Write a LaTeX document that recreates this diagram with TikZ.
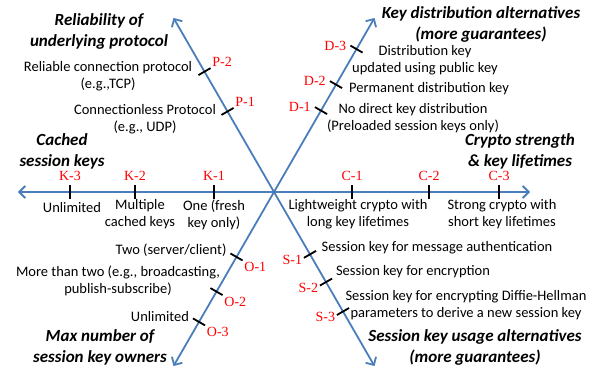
\documentclass[tikz,border=0pt]{standalone}
\usepackage{fontspec}
\setmainfont{Carlito}
\newfontfamily\labelfont{Liberation Serif}
\usepackage{tikz}
\usetikzlibrary{arrows.meta}
\usepackage{xcolor}
\definecolor{axisblue}{RGB}{74,126,187}
\tikzset{
	axis/.style={axisblue, line width=1.8pt, -{Straight Barb[length=6pt,width=12pt]}},
	tick/.style={line width=1.8pt},
	lbl/.style={text=red, font=\labelfont\fontsize{14}{16}\selectfont},
	txt/.style={align=center, font=\fontsize{14.5}{17.5}\selectfont},
	heading/.style={align=center, font=\fontsize{17}{21}\selectfont\bfseries\itshape},
}

\begin{document}
\begin{tikzpicture}[x=1pt, y=1pt]
	\useasboundingbox (-274,-177) rectangle (327,192);
	\coordinate (o) at (0,0);
	
	\draw [axis] (o) -- (0:256);
	\draw [axis] (o) -- (180:256);
	\draw [axis] (o) -- (60:201);
	\draw [axis] (o) -- (120:201);
	\draw [axis] (o) -- (240:201);
	\draw [axis] (o) -- (300:201);
	
	% headings
	\node [heading] (hp) at (-175,161) {Reliability of\\underlying protocol};
	\node [heading] (hd) at (207,168) {Key distribution alternatives\\(more guarantees)};
	\node [heading] (hk) at (-212,41) {Cached\\session keys};
	\node [heading] (hc) at (246,41) {Crypto strength\\\& key lifetimes};
	\node [heading] (ho) at (-174,-155) {Max number of\\session key owners};
	\node [heading] (hs) at (201,-155) {Session key usage alternatives\\(more guarantees)};
	
	% cached session keys
	\draw [tick] (-204,-7) -- ++(0,14) node [lbl, above] (k3) {K-3};
	\draw [tick] (-139,-7) -- ++(0,14) node [lbl, above] (k2) {K-2};
	\draw [tick] (-60,-7) -- ++(0,14) node [lbl, above] (k1) {K-1};
	\node [txt] (tk3) at (-202,-16) {Unlimited};
	\node [txt] (tk2) at (-134,-22) {Multiple\\cached keys};
	\node [txt] (tk1) at (-60,-23) {One (fresh\\key only)};
	
	% crypto strength
	\draw [tick] (78,-7) -- ++(0,14) node [lbl, above] (c1) {C-1};
	\draw [tick] (155,-7) -- ++(0,14) node [lbl, above] (c2) {C-2};
	\draw [tick] (225,-7) -- ++(0,14) node [lbl, above] (c3) {C-3};
	\node [txt] (tc1) at (84,-22) {Lightweight crypto with\\long key lifetimes};
	\node [txt] (tc3) at (228,-22) {Strong crypto with\\short key lifetimes};
	
	% protocol
	\draw [tick] (120:93) ++(210:7) -- ++(30:14) node [lbl, above right, inner sep=1pt] (p1) {P-1};
	\draw [tick] (120:139) ++(210:7) -- ++(30:14) node [lbl, above right, inner sep=1pt] (p2) {P-2};
	\node [txt] (tp2) at (-166,116) {Reliable connection protocol\\(e.g.,TCP)};
	\node [txt] (tp1) at (-129,73) {Connectionless Protocol\\(e.g., UDP)};
	
	% key distribution
	\draw [tick] (60:94) ++(330:7) -- ++(150:14) node [lbl, left] (d1) {D-1};
	\draw [tick] (60:124) ++(330:7) -- ++(150:14) node [lbl, left] (d2) {D-2};
	\draw [tick] (60:165) ++(330:7) -- ++(150:14) node [lbl, left] (d3) {D-3};
	\node [txt] (td3) at (151,132) {Distribution key\\updated using public key};
	\node [txt] (td2) at (155,103) {Permanent distribution key};
	\node [txt] (td1) at (139,74) {No direct key distribution\\(Preloaded session keys only)};
	
	% key owners
	\draw [tick] (240:75) ++(150:7) -- ++(330:14) node [lbl, below right, inner sep=1pt] (o1) {O-1};
	\draw [tick] (240:115) ++(150:7) -- ++(330:14) node [lbl, below right, inner sep=1pt] (o2) {O-2};
	\draw [tick] (240:150) ++(150:7) -- ++(330:14) node [lbl, below right, inner sep=1pt] (o3) {O-3};
	\node [txt] (to1) at (-103,-58) {Two (server/client)};
	\node [txt] (to2) at (-156,-89) {More than two (e.g., broadcasting,\\publish-subscribe)};
	\node [txt] (to3) at (-114,-125) {Unlimited};
	
	% session key usage
	\draw [tick] (300:72) ++(30:7) -- ++(210:14) node [lbl, left, inner sep=1pt, yshift=-2pt] (s1) {S-1};
	\draw [tick] (300:104) ++(30:7) -- ++(210:14) node [lbl, left, inner sep=1pt, yshift=-2pt] (s2) {S-2};
	\draw [tick] (300:138) ++(30:7) -- ++(210:14) node [lbl, left, inner sep=1pt, yshift=-2pt] (s3) {S-3};
	\node [txt] (ts1) at (163,-56) {Session key for message authentication};
	\node [txt] (ts2) at (139,-80) {Session key for encryption};
	\node [txt] (ts3) at (192,-113) {Session key for encrypting Diffie-Hellman\\parameters to derive a new session key};
\end{tikzpicture}
\end{document}
